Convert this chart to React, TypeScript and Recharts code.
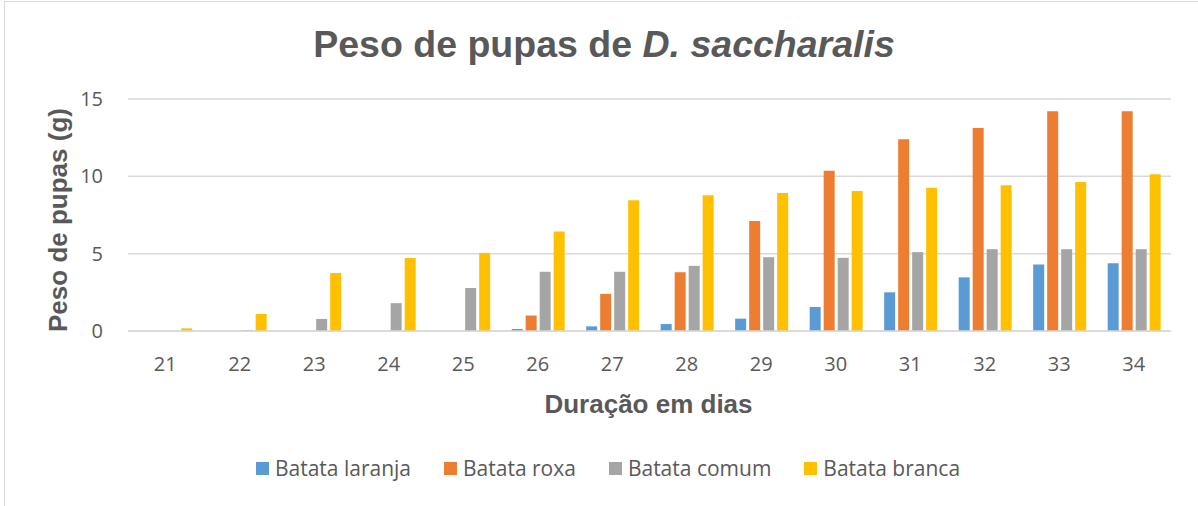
import React from "react";
import { BarChart, Bar, XAxis, YAxis, CartesianGrid, Legend } from "recharts";

const days = ["21", "22", "23", "24", "25", "26", "27", "28", "29", "30", "31", "32", "33", "34"];
const batataLaranja = [0, 0, 0, 0, 0, 0.13, 0.3, 0.45, 0.8, 1.55, 2.5, 3.47, 4.3, 4.38];
const batataRoxa = [0, 0, 0, 0, 0, 1.0, 2.4, 3.8, 7.12, 10.36, 12.4, 13.12, 14.2, 14.2];
const batataComum = [0, 0.06, 0.78, 1.8, 2.78, 3.83, 3.83, 4.21, 4.77, 4.73, 5.1, 5.29, 5.29, 5.29];
const batataBranca = [0.17, 1.1, 3.75, 4.72, 5.05, 6.43, 8.45, 8.77, 8.93, 9.05, 9.26, 9.43, 9.63, 10.13];
const yTicks = [0, 5, 10, 15];

const seriesNames = ["Batata laranja", "Batata roxa", "Batata comum", "Batata branca"];
const seriesColors = ["#5B9BD5", "#ED7D31", "#A5A5A5", "#FFC000"];
const seriesValues = [batataLaranja, batataRoxa, batataComum, batataBranca];

const data = days.map((d, i) => {
  const row: Record<string, any> = { day: d };
  seriesNames.forEach((n, k) => {
    row[n] = seriesValues[k][i];
  });
  return row;
});

const textColor = "#595959";
const gridColor = "#D9D9D9";

const renderLegend = () => (
  <div
    style={{
      display: "flex",
      justifyContent: "center",
      alignItems: "center",
      fontFamily: "Open Sans",
      fontSize: 21,
      color: textColor,
      gap: 33,
    }}
  >
    {seriesNames.map((n, k) => (
      <div key={n} style={{ display: "flex", alignItems: "center" }}>
        <span
          style={{
            display: "inline-block",
            width: 13,
            height: 13,
            background: seriesColors[k],
            marginRight: 6,
          }}
        />
        <span>{n}</span>
      </div>
    ))}
  </div>
);

export default function App() {
  return (
    <div
      style={{
        position: "fixed",
        left: 0,
        top: 0,
        width: 1198,
        height: 506,
        overflow: "hidden",
        background: "#fff",
      }}
    >
      <div
        style={{
          position: "absolute",
          left: 4,
          top: 1,
          width: 1400,
          height: 800,
          border: "1.5px solid #D9D9D9",
          boxSizing: "border-box",
        }}
      />
      <BarChart
        width={1198}
        height={506}
        data={data}
        margin={{ top: 99, right: 27, bottom: 145, left: 98 }}
        barCategoryGap="15%"
        barGap={3}
      >
        <CartesianGrid vertical={false} stroke={gridColor} strokeWidth={1.5} />
        <XAxis
          dataKey="day"
          height={30}
          axisLine={{ stroke: gridColor, strokeWidth: 1.5 }}
          tickLine={false}
          tickSize={0}
          tickMargin={26}
          tick={{ fill: textColor, fontSize: 20, fontFamily: "Open Sans" }}
        />
        <YAxis
          width={30}
          domain={[0, 15]}
          ticks={yTicks}
          axisLine={false}
          tickLine={false}
          tickSize={0}
          tickMargin={25}
          tick={{ fill: textColor, fontSize: 20, fontFamily: "Open Sans" }}
        />
        <Legend
          layout="horizontal"
          verticalAlign="middle"
          align="center"
          content={renderLegend}
          wrapperStyle={{ top: 454, left: 0, width: 1216 }}
        />
        {seriesNames.map((n, k) => (
          <Bar key={n} dataKey={n} fill={seriesColors[k]} isAnimationActive={false} />
        ))}
      </BarChart>
      <div
        style={{
          position: "absolute",
          left: 0,
          width: 1208,
          top: 26,
          textAlign: "center",
          fontFamily: "Liberation Sans",
          fontWeight: "bold",
          fontSize: 37.5,
          lineHeight: "37.5px",
          color: textColor,
          whiteSpace: "nowrap",
        }}
      >
        Peso de pupas de <i>D. saccharalis</i>
      </div>
      <div
        style={{
          position: "absolute",
          left: 0,
          width: 1297,
          top: 391,
          textAlign: "center",
          fontFamily: "Liberation Sans",
          fontWeight: "bold",
          fontSize: 26,
          lineHeight: "26px",
          color: textColor,
          whiteSpace: "nowrap",
        }}
      >
        Duração em dias
      </div>
      <div
        style={{
          position: "absolute",
          left: 58 - 150,
          top: 220 - 13,
          width: 300,
          height: 26,
          textAlign: "center",
          fontFamily: "Liberation Sans",
          fontWeight: "bold",
          fontSize: 26,
          lineHeight: "26px",
          color: textColor,
          whiteSpace: "nowrap",
          transform: "rotate(-90deg)",
          transformOrigin: "50% 50%",
        }}
      >
        Peso de pupas (g)
      </div>
    </div>
  );
}
